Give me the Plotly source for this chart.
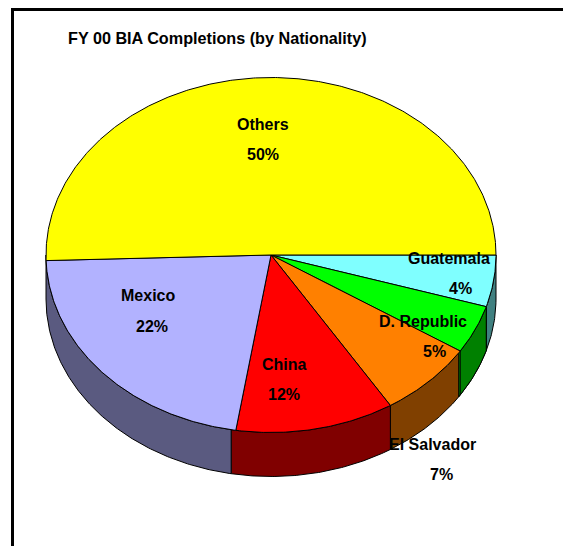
"""FY 00 BIA completions by nationality, drawn as an Excel-style 3D pie."""

import numpy as np
import plotly.graph_objects as go

# Slices run clockwise from 3 o'clock, shares
NATIONALITIES = ["Guatemala", "D. Republic", "El Salvador", "China", "Mexico", "Others"]
SHARES = [4.7, 4.4, 7.0, 11.4, 22.0, 50.5]
SHARE_LABELS = ["4%", "5%", "7%", "12%", "22%", "50%"]

TOP_COLORS = ["#7FFFFF", "#00FF00", "#FF8000", "#FF0000", "#B2B2FF", "#FFFF00"]
WALL_COLORS = ["#408080", "#008000", "#804000", "#800000", "#5A5A80"]

# Centres of the name and percent lines of each label, in page pixels
NAME_POS = [(449, 258), (423, 321), (432, 444), (284, 364), (148, 295), (263, 124)]
PCT_POS = [(460, 288), (434, 351), (441, 474), (284, 394), (152, 326), (263, 154)]

WIDTH, HEIGHT = 563, 546
CX, CY = 271, 255
RX, RY = 225, 177.5
DEPTH = 44

# The wall seam under China/Mexico sits a little off the top edge (degrees)
SEAM_SHIFT = 1.2
# D. Republic's wall shows a thin sliver of its cut face on the left
SLIVER = 0.7


def arc(a0, a1, drop=0.0):
    """Points along the pie rim between two angles (degrees, clockwise)."""
    t = np.radians(np.linspace(a0, a1, max(int(abs(a1 - a0) * 2), 2)))
    return CX + RX * np.cos(t), CY + RY * np.sin(t) + drop


def add_wall(fig, a0, a1, color):
    top_x, top_y = arc(a0, a1)
    low_x, low_y = arc(a1, a0, DEPTH)
    fig.add_trace(
        go.Scatter(
            x=np.concatenate([top_x, low_x, top_x[:1]]),
            y=np.concatenate([top_y, low_y, top_y[:1]]),
            mode="lines",
            fill="toself",
            fillcolor=color,
            line=dict(color="black", width=1),
            hoverinfo="skip",
            showlegend=False,
        )
    )


fig = go.Figure()

edges = np.concatenate([[0], np.cumsum(SHARES)]) / sum(SHARES) * 360

# Rim walls first, only the front half of the pie shows one
add_wall(fig, edges[0], edges[1], WALL_COLORS[0])
add_wall(fig, edges[2], edges[3], WALL_COLORS[2])
add_wall(fig, edges[1], edges[2] + SLIVER, WALL_COLORS[1])
add_wall(fig, edges[1], edges[2], WALL_COLORS[1])
add_wall(fig, edges[3], edges[4] + SEAM_SHIFT, WALL_COLORS[3])
add_wall(fig, edges[4] + SEAM_SHIFT, 180, WALL_COLORS[4])

# Top faces
for i, color in enumerate(TOP_COLORS):
    rim_x, rim_y = arc(edges[i], edges[i + 1])
    fig.add_trace(
        go.Scatter(
            x=np.concatenate([[CX], rim_x, [CX]]),
            y=np.concatenate([[CY], rim_y, [CY]]),
            mode="lines",
            fill="toself",
            fillcolor=color,
            line=dict(color="black", width=1),
            name=NATIONALITIES[i],
            hoverinfo="skip",
            showlegend=False,
        )
    )

label_font = dict(family="Liberation Sans", size=16, color="black", weight="bold")
annotations = []
for name, pct, name_xy, pct_xy in zip(NATIONALITIES, SHARE_LABELS, NAME_POS, PCT_POS):
    for text, (x, y) in ((name, name_xy), (pct, pct_xy)):
        annotations.append(
            dict(
                text=text,
                x=x,
                y=y,
                xref="x",
                yref="y",
                showarrow=False,
                xanchor="center",
                yanchor="middle",
                font=label_font,
            )
        )

fig.update_layout(
    width=WIDTH,
    height=HEIGHT,
    margin=dict(l=0, r=0, t=0, b=0),
    paper_bgcolor="white",
    plot_bgcolor="white",
    showlegend=False,
    title=dict(
        text="<b>FY 00 BIA Completions (by Nationality)</b>",
        x=68 / WIDTH,
        xanchor="left",
        y=1 - 38 / HEIGHT,
        yanchor="middle",
        font=dict(family="Liberation Sans", size=16.2, color="black"),
    ),
    xaxis=dict(range=[0, WIDTH], visible=False, fixedrange=True),
    yaxis=dict(range=[HEIGHT, 0], visible=False, fixedrange=True),
    annotations=annotations,
    shapes=[
        # the frame is cut off by the page on the right and at the bottom
        dict(type="rect", x0=11, x1=14, y0=8, y1=HEIGHT, fillcolor="black", line=dict(width=0)),
        dict(type="rect", x0=11, x1=WIDTH, y0=8, y1=11, fillcolor="black", line=dict(width=0)),
    ],
)

# Drop the page's default body margin so the figure fills the window
fig.write_html(
    "out.html",
    config=dict(displayModeBar=False),
    post_script="document.body.style.margin = '0'; document.body.style.overflow = 'hidden';",
)
